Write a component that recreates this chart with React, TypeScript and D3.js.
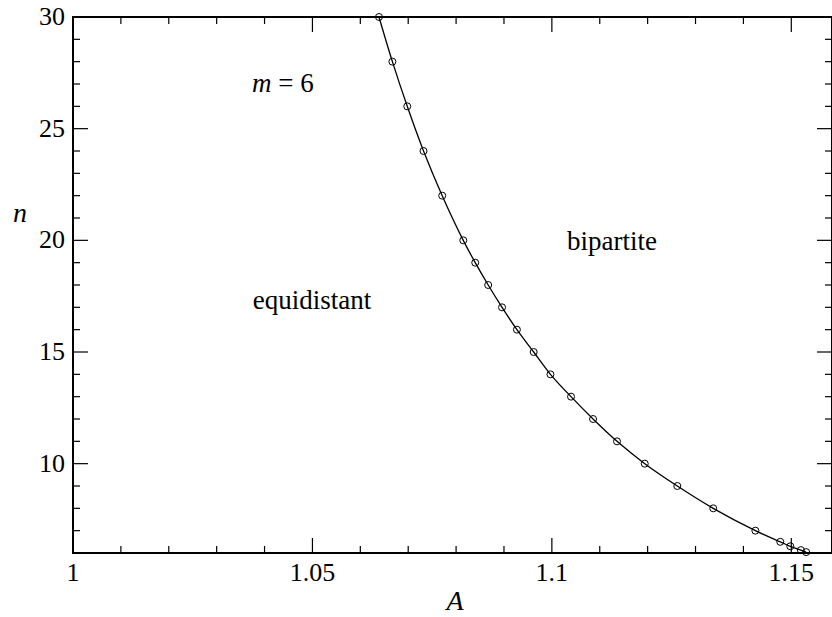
import React from 'react';
import * as d3 from 'd3';

// boundary points (n vs A)
const nValues = [30, 28, 26, 24, 22, 20, 19, 18, 17, 16, 15, 14, 13, 12, 11, 10, 9, 8, 7, 6.5, 6.3, 6.13, 6.04];
const aValues = [1.0639, 1.0667, 1.0698, 1.0732, 1.0771, 1.0815, 1.084, 1.0867, 1.0896, 1.0927, 1.0962, 1.0997, 1.104, 1.1086, 1.1136, 1.1194, 1.1262, 1.1337, 1.1425, 1.1477, 1.1498, 1.152, 1.1531];

const xMajor = [1, 1.05, 1.1, 1.15];
const xMajorLabels = ['1', '1.05', '1.1', '1.15'];
const yMajor = [10, 15, 20, 25, 30];

const W = 832;
const H = 617;
const plotL = 73;
const plotR = 832;
const plotT = 17;
const plotB = 553;
const serifFont = 'Liberation Serif, Times, serif';

const App = () => {
  const x = d3.scaleLinear().domain([1, 1.1585]).range([plotL, plotR]);
  const y = d3.scaleLinear().domain([6, 30]).range([plotB, plotT]);

  const data = nValues.map((n, i) => ({ n, a: aValues[i] }));

  const line = d3.line<{ n: number; a: number }>()
    .x(d => x(d.a))
    .y(d => y(d.n))
    .curve(d3.curveCatmullRom.alpha(0.5));

  const xMinor = d3.range(1, 1.1585, 0.01).map(v => +v.toFixed(2));
  const yMinor = d3.range(7, 30, 1);

  const isMajorX = (v: number) => xMajor.some(m => Math.abs(m - v) < 1e-6);
  const isMajorY = (v: number) => yMajor.includes(v);

  const t = (size: number, italic = false) => ({ fontFamily: serifFont, fontSize: size, fontStyle: italic ? 'italic' : 'normal' });

  return (
    <svg width={W} height={H} style={{ position: 'absolute', left: 0, top: 0, background: '#fff' }}>
      {/* ticks bottom & top */}
      {xMinor.map(v => {
        const len = isMajorX(v) ? 15 : 7;
        const px = x(v);
        return (
          <g key={'xt' + v} stroke="#000" strokeWidth={1.2}>
            <line x1={px} x2={px} y1={plotB} y2={plotB - len} />
            <line x1={px} x2={px} y1={plotT} y2={plotT + len} />
          </g>
        );
      })}
      {/* ticks left & right */}
      {yMinor.map(v => {
        const len = isMajorY(v) ? 15 : 7;
        const py = y(v);
        return (
          <g key={'yt' + v} stroke="#000" strokeWidth={1.2}>
            <line x1={plotL} x2={plotL + len} y1={py} y2={py} />
            <line x1={plotR} x2={plotR - len} y1={py} y2={py} />
          </g>
        );
      })}
      {/* frame */}
      <rect x={plotL} y={plotT} width={plotR - plotL} height={plotB - plotT} fill="none" stroke="#000" strokeWidth={2} />

      {/* tick labels */}
      {xMajor.map((v, i) => (
        <text key={'xl' + v} x={x(v)} y={plotB + 28} textAnchor="middle" style={t(26)}>
          {xMajorLabels[i]}
        </text>
      ))}
      {yMajor.map(v => (
        <text key={'yl' + v} x={plotL - 8} y={y(v) + 8} textAnchor="end" style={t(26)}>
          {v}
        </text>
      ))}

      {/* axis titles */}
      <text x={455} y={610} textAnchor="middle" style={t(28, true)}>A</text>
      <text x={20} y={222} textAnchor="middle" style={t(28, true)}>n</text>

      {/* curve */}
      <path d={line(data) ?? ''} fill="none" stroke="#000" strokeWidth={1.3} />
      {data.map((d, i) => (
        <circle key={i} cx={x(d.a)} cy={y(d.n)} r={3.5} fill="none" stroke="#000" strokeWidth={1} />
      ))}

      {/* annotations */}
      <text x={252} y={92} style={t(27)}>
        <tspan style={{ fontStyle: 'italic' }}>m</tspan> = 6
      </text>
      <text x={312} y={309} textAnchor="middle" style={t(27)}>equidistant</text>
      <text x={612} y={250} textAnchor="middle" style={t(27)}>bipartite</text>
    </svg>
  );
};

export default App;
